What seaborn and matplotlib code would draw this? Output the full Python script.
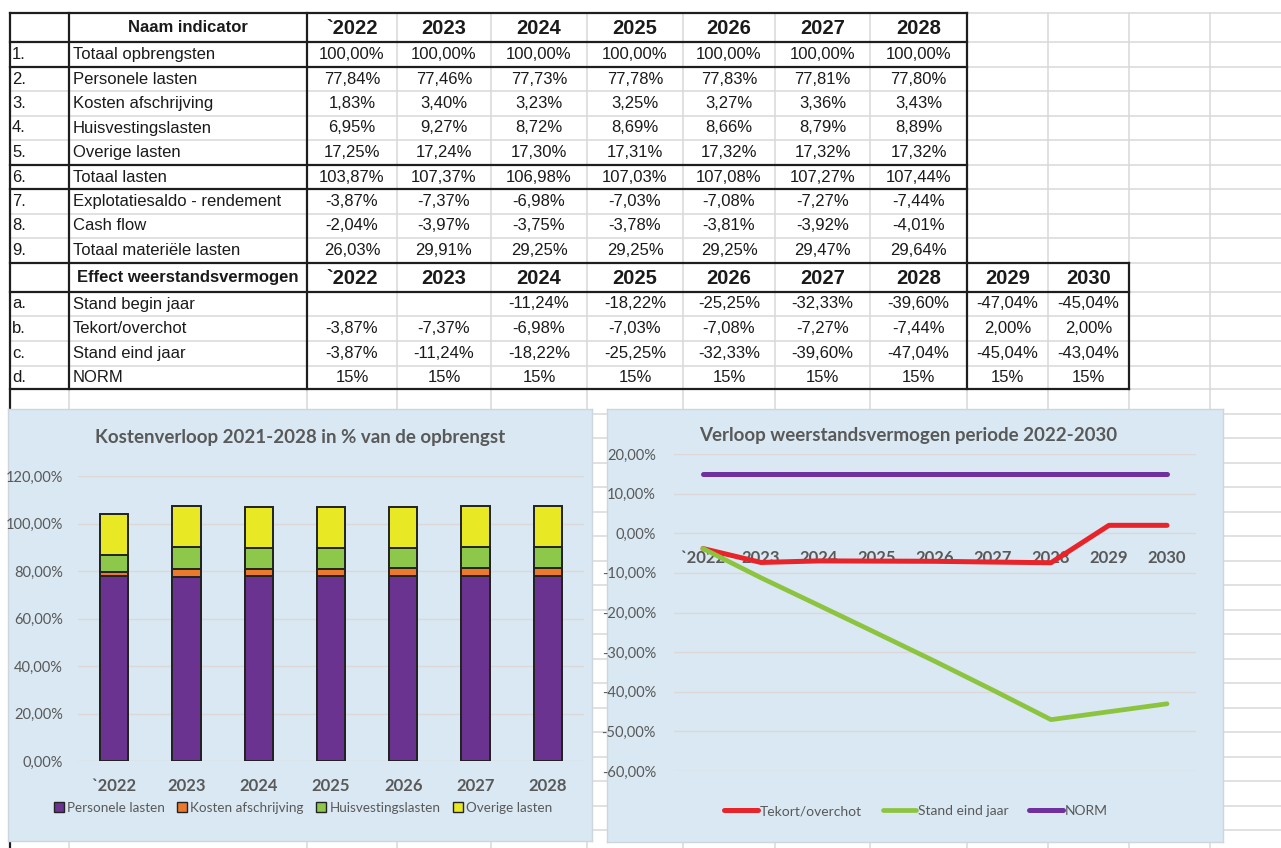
import numpy as np
import matplotlib
matplotlib.use("Agg")
import matplotlib.pyplot as plt
import seaborn as sns
from matplotlib.lines import Line2D
from matplotlib.patches import Patch
from matplotlib.ticker import FuncFormatter, MultipleLocator

# ---- data read from the spreadsheet ----
jaren = ["`2022", "2023", "2024", "2025", "2026", "2027", "2028"]
jaren_wv = ["`2022", "2023", "2024", "2025", "2026", "2027", "2028", "2029", "2030"]

nummers = ["1.", "2.", "3.", "4.", "5.", "6.", "7.", "8.", "9."]
indicatoren = ["Totaal opbrengsten", "Personele lasten", "Kosten afschrijving",
               "Huisvestingslasten", "Overige lasten", "Totaal lasten",
               "Explotatiesaldo - rendement", "Cash flow", "Totaal materiële lasten"]

totaal_opbrengsten = [100.00, 100.00, 100.00, 100.00, 100.00, 100.00, 100.00]
personele_lasten = [77.84, 77.46, 77.73, 77.78, 77.83, 77.81, 77.80]
kosten_afschrijving = [1.83, 3.40, 3.23, 3.25, 3.27, 3.36, 3.43]
huisvestingslasten = [6.95, 9.27, 8.72, 8.69, 8.66, 8.79, 8.89]
overige_lasten = [17.25, 17.24, 17.30, 17.31, 17.32, 17.32, 17.32]
totaal_lasten = [103.87, 107.37, 106.98, 107.03, 107.08, 107.27, 107.44]
exploitatiesaldo = [-3.87, -7.37, -6.98, -7.03, -7.08, -7.27, -7.44]
cash_flow = [-2.04, -3.97, -3.75, -3.78, -3.81, -3.92, -4.01]
materiele_lasten = [26.03, 29.91, 29.25, 29.25, 29.25, 29.47, 29.64]

letters = ["a.", "b.", "c.", "d."]
wv_namen = ["Stand begin jaar", "Tekort/overchot", "Stand eind jaar", "NORM"]
stand_begin = [None, None, -11.24, -18.22, -25.25, -32.33, -39.60, -47.04, -45.04]
tekort_overschot = [-3.87, -7.37, -6.98, -7.03, -7.08, -7.27, -7.44, 2.00, 2.00]
stand_eind = [-3.87, -11.24, -18.22, -25.25, -32.33, -39.60, -47.04, -45.04, -43.04]
norm = [15, 15, 15, 15, 15, 15, 15, 15, 15]

kosten_series = ["Personele lasten", "Kosten afschrijving", "Huisvestingslasten", "Overige lasten"]
kosten_kleuren = ["#6A338F", "#EC7A2C", "#8DC84B", "#E9E824"]

# ---- page layout (pixels) ----
W, H = 1281, 848
col_x = [10, 69, 307, 397, 491, 587, 683, 775, 870, 967, 1048, 1129, 1210]
row_y = [13, 42, 67, 91, 116, 140, 165, 189, 214, 238, 263, 292, 316, 341, 366, 389]
extra_rows = [389 + 24.5 * k for k in range(1, 19)]

sns.set_theme(style="white")
plt.rcParams["font.family"] = ["Lato", "DejaVu Sans"]
TABLE_FONT = ["Liberation Sans", "DejaVu Sans"]
GRAY = "#595959"


def pct(v, dec=2):
    if v is None:
        return ""
    return f"{v:.{dec}f}%".replace(".", ",")


fig = plt.figure(figsize=(W / 100, H / 100), dpi=100)
bg = fig.add_axes([0, 0, 1, 1])
bg.set_xlim(0, W)
bg.set_ylim(H, 0)
bg.axis("off")

# spreadsheet grid
light = dict(color="#D9D9D9", lw=1.1, zorder=1)
dark = dict(color="#1E1E1E", lw=1.6, zorder=3, solid_capstyle="projecting")
for y in row_y + extra_rows:
    bg.plot([10, W], [y, y], **light)
for x in col_x[1:]:
    bg.plot([x, x], [13, H], **light)
bg.plot([10, 10], [13, H], **dark)

# black borders
for y in [13, 42, 67, 165, 189]:
    bg.plot([10, 967], [y, y], **dark)
for y in [263, 292, 389]:
    bg.plot([10, 1129], [y, y], **dark)
for x in [69, 307, 967]:
    bg.plot([x, x], [13, 389], **dark)
bg.plot([1129, 1129], [263, 389], **dark)

# table text
txt = dict(family=TABLE_FONT, fontsize=12, color="#1A1A1A", va="center")
centers_x = [(col_x[i] + col_x[i + 1]) / 2 for i in range(2, 11)]


def row_mid(i):
    return (row_y[i] + row_y[i + 1]) / 2


bg.text((69 + 307) / 2, row_mid(0), "Naam indicator", ha="center", weight="bold", **txt)
for j, jaar in enumerate(jaren):
    bg.text(centers_x[j], row_mid(0) + 0.5, jaar, ha="center", weight="bold",
            **{**txt, "fontsize": 14.5})

rijen = [totaal_opbrengsten, personele_lasten, kosten_afschrijving, huisvestingslasten,
         overige_lasten, totaal_lasten, exploitatiesaldo, cash_flow, materiele_lasten]
for i, (nr, naam, waarden) in enumerate(zip(nummers, indicatoren, rijen)):
    y = row_mid(i + 1)
    bg.text(12, y, nr, ha="left", **txt)
    bg.text(73, y, naam, ha="left", **txt)
    for j, v in enumerate(waarden):
        bg.text(centers_x[j], y, pct(v), ha="center", **{**txt, "fontsize": 12})

bg.text((69 + 307) / 2, row_mid(10), "Effect weerstandsvermogen", ha="center", weight="bold", **txt)
for j, jaar in enumerate(jaren_wv):
    bg.text(centers_x[j], row_mid(10) + 0.5, jaar, ha="center", weight="bold",
            **{**txt, "fontsize": 14.5})

wv_rijen = [stand_begin, tekort_overschot, stand_eind, norm]
for i, (lt, naam, waarden) in enumerate(zip(letters, wv_namen, wv_rijen)):
    y = row_mid(11 + i)
    bg.text(12, y, lt, ha="left", **txt)
    bg.text(73, y, naam, ha="left", **txt)
    for j, v in enumerate(waarden):
        s = pct(v, 0) if waarden is norm else pct(v)
        bg.text(centers_x[j], y, s, ha="center", **{**txt, "fontsize": 12})


def px_axes(x0, y0, x1, y1):
    return fig.add_axes([x0 / W, 1 - y1 / H, (x1 - x0) / W, (y1 - y0) / H])


def panel(x0, y0, x1, y1):
    p = px_axes(x0, y0, x1, y1)
    p.set_facecolor("#D9E8F2")
    p.set_xticks([])
    p.set_yticks([])
    for s in p.spines.values():
        s.set_color("#CDD6DC")
        s.set_linewidth(1.0)
    return p


def fig_xy(x, y):
    return x / W, 1 - y / H


# ---- left chart: stacked bars ----
pl = panel(8, 409, 592, 841)
ax1 = px_axes(78, 476, 584, 761)
ax1.set_facecolor("none")
stack = np.array([personele_lasten, kosten_afschrijving, huisvestingslasten, overige_lasten])
cum = np.cumsum(stack, axis=0)
for k in range(len(kosten_series) - 1, -1, -1):
    sns.barplot(x=jaren, y=cum[k], color=kosten_kleuren[k], width=0.39, saturation=1,
                edgecolor="#222222", linewidth=1.4, errorbar=None, ax=ax1, zorder=3)
ax1.set_ylim(0, 120)
ax1.set_xlim(-0.5, 6.5)
ax1.yaxis.set_major_locator(MultipleLocator(20))
ax1.yaxis.set_major_formatter(FuncFormatter(lambda v, _: pct(v)))
ax1.yaxis.grid(True, color="#DCD8D8", lw=1.0)
ax1.set_axisbelow(True)
for s in ax1.spines.values():
    s.set_visible(False)
ax1.set_xlabel("")
ax1.set_ylabel("")
ax1.tick_params(axis="y", length=0, pad=11, labelsize=10.5, labelcolor=GRAY)
ax1.tick_params(axis="x", length=0, pad=12, labelsize=12, labelcolor=GRAY)
for lbl in ax1.get_xticklabels():
    lbl.set_fontweight("bold")
pl.text(*fig_xy(300, 437), "Kostenverloop 2021-2028 in % van de opbrengst", transform=fig.transFigure,
        ha="center", va="center", fontsize=13.5, weight="bold", color=GRAY)
handles = [Patch(facecolor=c, edgecolor="#222222", lw=1.0) for c in kosten_kleuren]
ax1.legend(handles, kosten_series, loc="center", bbox_to_anchor=fig_xy(303, 808),
           bbox_transform=fig.transFigure, ncol=4, frameon=False, fontsize=9.7,
           handlelength=0.75, handleheight=0.75, handletextpad=0.25, columnspacing=0.9,
           labelcolor=GRAY)

# ---- right chart: lines ----
pr = panel(607, 409, 1223, 842)
ax2 = px_axes(674, 454, 1196, 771)
ax2.set_facecolor("none")
lijnen = [("Tekort/overchot", tekort_overschot, "#E8232A", 3.6),
          ("Stand eind jaar", stand_eind, "#8CC43F", 3.4),
          ("NORM", norm, "#7030A0", 3.6)]
for naam, waarden, kleur, lw in lijnen:
    sns.lineplot(x=jaren_wv, y=waarden, sort=False, color=kleur, lw=lw, errorbar=None,
                 solid_capstyle="round", solid_joinstyle="round", ax=ax2, zorder=3)
ax2.set_ylim(-60, 20)
ax2.set_xlim(-0.5, 8.5)
ax2.yaxis.set_major_locator(MultipleLocator(10))
ax2.yaxis.set_major_formatter(FuncFormatter(lambda v, _: pct(v)))
ax2.yaxis.grid(True, color="#DCD8D8", lw=1.0)
ax2.set_axisbelow(True)
for s in ax2.spines.values():
    s.set_visible(False)
ax2.spines["bottom"].set_position(("data", 0))
ax2.set_xlabel("")
ax2.set_ylabel("")
ax2.tick_params(axis="y", length=0, pad=13, labelsize=10.5, labelcolor=GRAY)
ax2.tick_params(axis="x", length=0, pad=12, labelsize=12, labelcolor=GRAY)
for lbl in ax2.get_xticklabels():
    lbl.set_fontweight("bold")
pr.text(*fig_xy(908, 435), "Verloop weerstandsvermogen periode 2022-2030", transform=fig.transFigure,
        ha="center", va="center", fontsize=13.5, weight="bold", color=GRAY)
handles2 = [Line2D([0], [0], color=k, lw=lw, solid_capstyle="round") for _, _, k, lw in lijnen]
ax2.legend(handles2, [n for n, _, _, _ in lijnen], loc="center", bbox_to_anchor=fig_xy(916, 811),
           bbox_transform=fig.transFigure, ncol=3, frameon=False, fontsize=10,
           handlelength=2.4, handletextpad=0.15, columnspacing=1.5, labelcolor=GRAY)

fig.savefig("out.png", dpi=100)
